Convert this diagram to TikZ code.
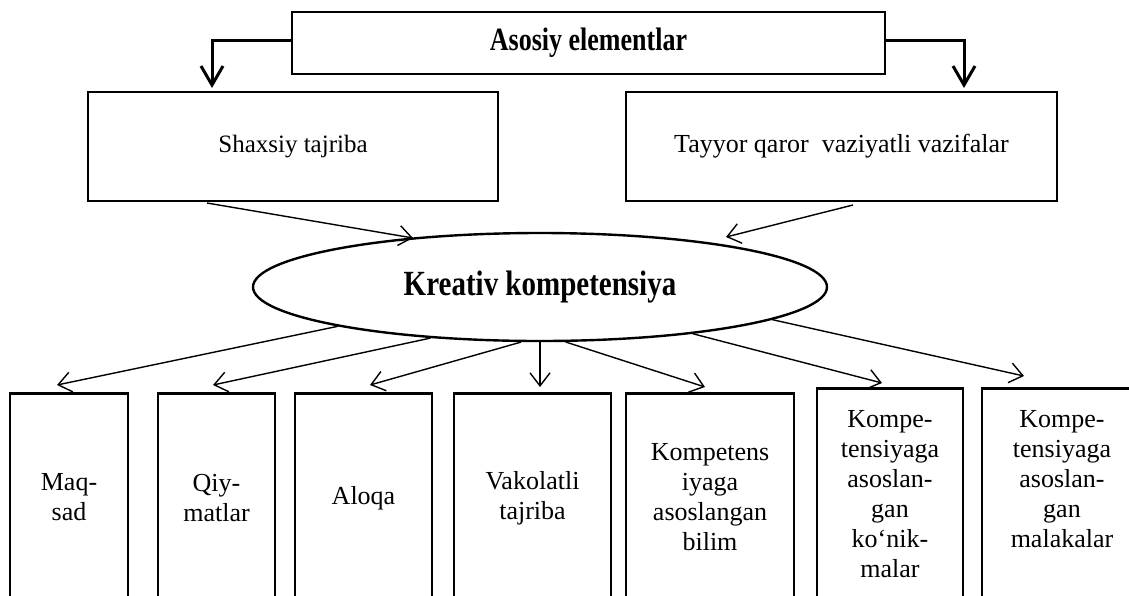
\documentclass[tikz,border=0pt]{standalone}
\usepackage{graphicx}
\usepackage{fontspec}
\setmainfont{Liberation Serif}
\usetikzlibrary{arrows.meta,shapes.geometric}
\begin{document}
\begin{tikzpicture}[x=1pt,y=-1pt,
  box/.style={draw, line width=2.6pt, rectangle, inner sep=0pt},
  col/.style={box, anchor=north, minimum height=230pt},
  txt/.style={align=center, font=\fontsize{26}{30}\selectfont, inner sep=0pt},
  conn/.style={line width=1.4pt, -{Straight Barb[length=13pt,width=20pt]}},
  bendarr/.style={line width=3pt, -{Straight Barb[length=19pt,width=22pt]}},
]
\useasboundingbox (0,0) rectangle (1129,595);
\clip (0,0) rectangle (1129,595);
% top
\node[box, minimum width=593pt, minimum height=62pt, font=\bfseries\fontsize{26}{30}\selectfont] (top) at (588.5,43) {\scalebox{1}[1.25]{Asosiy elementlar}};
\node[box, minimum width=410pt, minimum height=109pt, font=\fontsize{25}{30}\selectfont] (sh) at (293,146.5) {Shaxsiy tajriba};
\node[box, minimum width=431pt, minimum height=109pt, font=\fontsize{26}{30}\selectfont] (ty) at (841.5,146.5) {Tayyor qaror\ \ vaziyatli vazifalar};
\coordinate (la) at (212,88);
\coordinate (ra) at (964,88);
\draw[bendarr] ([yshift=3pt]top.west) -| (la);
\draw[bendarr] ([yshift=3pt]top.east) -| (ra);
% ellipse
\node[ellipse, draw, line width=2.4pt, minimum width=574pt, minimum height=108pt, inner sep=0pt, font=\bfseries\fontsize{29}{32}\selectfont] (kc) at (540,287) {\scalebox{1}[1.22]{Kreativ kompetensiya}};
\coordinate (s1) at (207,203);
\coordinate (e1) at (413,238);
\coordinate (s2) at (853,205);
\coordinate (e2) at (726,237);
\draw[conn] (s1) -- (e1);
\draw[conn] (s2) -- (e2);
% columns
\node[col, minimum width=118pt] (b1) at (69,392) {};
\node[col, minimum width=117pt] (b2) at (216.5,392) {};
\node[col, minimum width=137pt] (b3) at (363.5,392) {};
\node[col, minimum width=157pt] (b4) at (532.5,392) {};
\node[col, minimum width=168pt] (b5) at (710,392) {};
\node[col, minimum width=146pt] (b6) at (890,387) {};
\node[col, minimum width=160pt] (b7) at (1062,387) {};
\node[txt] (t1) at (69,497) {Maq-\\sad};
\node[txt] (t2) at (216.5,498) {Qiy-\\matlar};
\node[txt] (t3) at (363.5,498) {Aloqa};
\node[txt] (t4) at (532.5,498) {Vakolatli\\tajriba};
\node[txt] (t5) at (710,497) {Kompetens\\iyaga\\asoslangan\\bilim};
\node[txt] (t6) at (890,494) {Kompe-\\tensiyaga\\asoslan-\\gan\\ko‘nik-\\malar};
\node[txt] (t7) at (1062,479) {Kompe-\\tensiyaga\\asoslan-\\gan\\malakalar};
\coordinate (p1) at (57,385);
\coordinate (p2) at (213,385);
\coordinate (p3) at (370,385);
\coordinate (p4) at (540,387);
\coordinate (p5) at (705,387);
\coordinate (p6) at (882,383);
\coordinate (p7) at (1024,376);
\draw[conn] (kc.191.4) -- (p1);
\draw[conn] (kc.205.9) -- (p2);
\draw[conn] (kc.251.2) -- (p3);
\draw[conn] (kc.south) -- (p4);
\draw[conn] (kc.295.7) -- (p5);
\draw[conn] (kc.343) -- (p6);
\draw[conn] (kc.352.4) -- (p7);
\end{tikzpicture}
\end{document}
